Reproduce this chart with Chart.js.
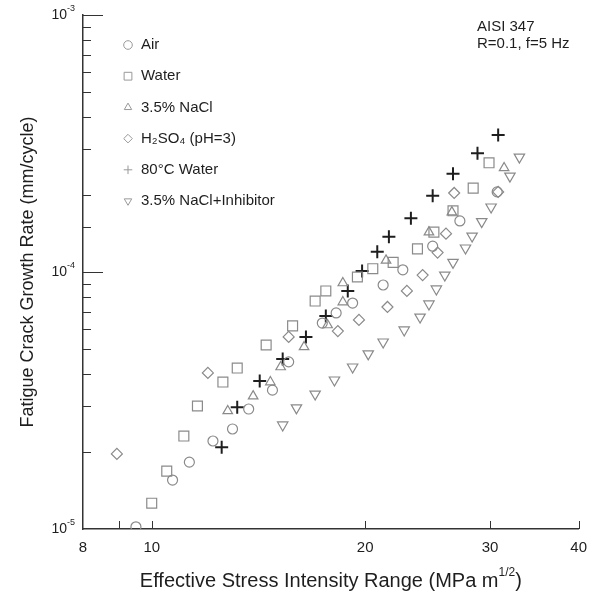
<!DOCTYPE html>
<html>
<head>
<meta charset="utf-8">
<script src="https://cdn.jsdelivr.net/npm/chart.js@4.4.1/dist/chart.umd.min.js"></script>
<style>
  html, body { margin: 0; padding: 0; background: #fff; }
  #wrap { width: 597px; height: 598px; }
</style>
</head>
<body>
<div id="wrap"><canvas id="fcgr" width="597" height="598"></canvas></div>
<script>
const seriesNames = ['Air', 'Water', '3.5% NaCl', 'H₂SO₄ (pH=3)', '80°C Water', '3.5% NaCl+Inhibitor'];

// delta K (MPa m^1/2) and da/dN (mm/cycle)
const airK = [9.5, 10.7, 11.3, 12.2, 13.0, 13.7, 14.8, 15.6, 17.4, 18.2, 19.2, 21.2, 22.6, 24.9, 27.2, 30.7];
const airRate = [1.02e-5, 1.55e-5, 1.82e-5, 2.2e-5, 2.45e-5, 2.93e-5, 3.47e-5, 4.47e-5, 6.33e-5, 6.93e-5, 7.57e-5, 8.9e-5, 1.02e-4, 1.26e-4, 1.58e-4, 2.05e-4];

const waterK = [10.0, 10.5, 11.1, 11.6, 12.6, 13.2, 14.5, 15.8, 17.0, 17.6, 19.5, 20.5, 21.9, 23.7, 25.0, 26.6, 28.4, 29.9];
const waterRate = [1.26e-5, 1.68e-5, 2.3e-5, 3.01e-5, 3.73e-5, 4.23e-5, 5.2e-5, 6.17e-5, 7.71e-5, 8.44e-5, 9.56e-5, 1.03e-4, 1.09e-4, 1.23e-4, 1.43e-4, 1.73e-4, 2.12e-4, 2.66e-4];

const naclK = [12.8, 13.9, 14.7, 15.2, 16.4, 17.7, 18.6, 18.6, 21.4, 24.6, 26.5, 31.4];
const naclRate = [2.88e-5, 3.29e-5, 3.73e-5, 4.27e-5, 5.11e-5, 6.22e-5, 7.64e-5, 9.06e-5, 1.11e-4, 1.43e-4, 1.71e-4, 2.54e-4];

const acidK = [8.93, 12.0, 15.6, 18.3, 19.6, 21.5, 22.9, 24.1, 25.3, 26.0, 26.7, 30.8];
const acidRate = [1.96e-5, 4.05e-5, 5.59e-5, 5.89e-5, 6.51e-5, 7.31e-5, 8.44e-5, 9.73e-5, 1.19e-4, 1.41e-4, 2.03e-4, 2.05e-4];

const hotK = [12.55, 13.2, 14.2, 15.3, 16.5, 17.6, 18.9, 19.8, 20.8, 21.6, 23.2, 24.9, 26.6, 28.8, 30.8];
const hotRate = [2.08e-5, 2.98e-5, 3.77e-5, 4.59e-5, 5.59e-5, 6.74e-5, 8.44e-5, 1.01e-4, 1.2e-4, 1.37e-4, 1.62e-4, 1.98e-4, 2.41e-4, 2.9e-4, 3.41e-4];

const inhibK = [15.3, 16.0, 17.0, 18.1, 19.2, 20.2, 21.2, 22.7, 23.9, 24.6, 25.2, 25.9, 26.6, 27.7, 28.3, 29.2, 30.1, 32.0, 33.0];
const inhibRate = [2.54e-5, 2.96e-5, 3.35e-5, 3.8e-5, 4.27e-5, 4.8e-5, 5.34e-5, 5.95e-5, 6.68e-5, 7.51e-5, 8.59e-5, 9.73e-5, 1.09e-4, 1.24e-4, 1.38e-4, 1.57e-4, 1.79e-4, 2.36e-4, 2.8e-4];

const xTickValues = [8, 9, 10, 20, 30, 40];
const xTickLabels = ['8', '', '10', '20', '30', '40'];
const noteLines = ['AISI 347', 'R=0.1, f=5 Hz'];

const FONT = '"Liberation Sans", Arial, "DejaVu Sans", sans-serif';
const GREY = '#8a8a8a';
const INK = '#1e1e1e';

const series = [
  [airK, airRate],
  [waterK, waterRate],
  [naclK, naclRate],
  [acidK, acidRate],
  [hotK, hotRate],
  [inhibK, inhibRate],
];

const markers = [
  { pointStyle: 'circle', radius: 5 },
  { pointStyle: 'rect', radius: 7 },
  { pointStyle: 'triangle', radius: 5.5 },
  { pointStyle: 'rectRot', radius: 5.5 },
  { pointStyle: 'cross', radius: 6.5, color: INK, width: 2 },
  { pointStyle: 'triangle', radius: 6, rotation: 180 },
];

const datasets = series.map(([xs, ys], i) => {
  const m = markers[i];
  return {
    label: seriesNames[i],
    data: xs.map((x, j) => ({ x, y: ys[j] })),
    showLine: false,
    pointStyle: m.pointStyle,
    pointRadius: m.radius,
    pointHoverRadius: m.radius,
    pointRotation: m.rotation || 0,
    borderColor: m.color || GREY,
    backgroundColor: 'rgba(0,0,0,0)',
    pointBorderWidth: m.width || 1.2,
  };
});

// text made of runs so that sub/superscripts can be drawn
function drawRuns(ctx, runs, x, y, align) {
  const widths = runs.map(r => {
    ctx.font = `${r.size}px ${FONT}`;
    return ctx.measureText(r.text).width;
  });
  const total = widths.reduce((a, b) => a + b, 0);
  let cx = x;
  if (align === 'center') cx = x - total / 2;
  if (align === 'right') cx = x - total;
  ctx.textAlign = 'left';
  ctx.textBaseline = 'middle';
  runs.forEach((r, i) => {
    ctx.font = `${r.size}px ${FONT}`;
    ctx.fillText(r.text, cx, y + (r.dy || 0));
    cx += widths[i];
  });
}

const isDecade = v => Math.abs(Math.log10(v) - Math.round(Math.log10(v))) < 1e-6;

const decorations = {
  id: 'decorations',
  afterDraw(chart) {
    const { ctx, scales: { x, y } } = chart;
    ctx.save();

    // inward tick marks
    ctx.strokeStyle = '#333';
    ctx.lineWidth = 1;
    ctx.beginPath();
    xTickValues.forEach(v => {
      if (v <= x.min) return;
      const px = Math.round(x.getPixelForValue(v)) + 0.5;
      ctx.moveTo(px, y.bottom);
      ctx.lineTo(px, y.bottom - 8);
    });
    y.ticks.forEach(t => {
      if (t.value <= y.min) return;
      const py = Math.round(y.getPixelForValue(t.value)) + 0.5;
      ctx.moveTo(x.left, py);
      ctx.lineTo(x.left + (isDecade(t.value) ? 20 : 8), py);
    });
    ctx.stroke();

    // y decade labels, 10 with a raised exponent
    ctx.fillStyle = INK;
    y.ticks.filter(t => isDecade(t.value)).forEach(t => {
      const exp = Math.round(Math.log10(t.value));
      drawRuns(ctx, [
        { text: '10', size: 14 },
        { text: String(exp), size: 9, dy: -6 },
      ], x.left - 8, y.getPixelForValue(t.value), 'right');
    });

    // x axis title
    drawRuns(ctx, [
      { text: 'Effective Stress Intensity Range (MPa m', size: 20 },
      { text: '1/2', size: 12, dy: -8 },
      { text: ')', size: 20 },
    ], (x.left + x.right) / 2, 581, 'center');

    // legend
    chart.data.datasets.forEach((ds, i) => {
      const ly = 45 + i * 31.2;
      ctx.strokeStyle = '#999';
      ctx.fillStyle = 'rgba(0,0,0,0)';
      Chart.helpers.drawPoint(ctx, {
        pointStyle: ds.pointStyle,
        rotation: ds.pointRotation,
        radius: ds.pointStyle === 'rect' ? 5.5 : 4.3,
        borderWidth: 1,
      }, 128, ly);
      ctx.fillStyle = INK;
      ctx.font = `15px ${FONT}`;
      ctx.textAlign = 'left';
      ctx.textBaseline = 'middle';
      ctx.fillText(ds.label, 141, ly);
    });

    // material / loading note
    ctx.font = `15px ${FONT}`;
    noteLines.forEach((line, i) => ctx.fillText(line, 477, 27 + i * 17));

    ctx.restore();
  },
};

const ctx = document.getElementById('fcgr').getContext('2d');
new Chart(ctx, {
  type: 'scatter',
  data: { datasets },
  options: {
    responsive: false,
    animation: false,
    events: [],
    layout: { padding: { top: 15, right: 18, left: 0, bottom: 0 } },
    plugins: { legend: { display: false }, tooltip: { enabled: false } },
    scales: {
      x: {
        type: 'logarithmic',
        min: 8,
        max: 40,
        afterBuildTicks: s => { s.ticks = xTickValues.map(v => ({ value: v })); },
        afterFit: s => { s.height = 69; },
        grid: { display: false, drawTicks: false },
        border: { display: true, color: '#333', width: 1.5 },
        ticks: {
          autoSkip: false,
          maxRotation: 0,
          padding: 10,
          color: INK,
          font: { family: FONT, size: 15 },
          callback: (v, i) => xTickLabels[i],
        },
      },
      y: {
        type: 'logarithmic',
        min: 1e-5,
        max: 1e-3,
        afterFit: s => { s.width = 83; },
        grid: { display: false, drawTicks: false },
        border: { display: true, color: '#333', width: 1.5 },
        ticks: { display: false },
        title: {
          display: true,
          text: 'Fatigue Crack Growth Rate (mm/cycle)',
          color: INK,
          font: { family: FONT, size: 18 },
          padding: { top: 17, bottom: 0 },
        },
      },
    },
  },
  plugins: [decorations],
});
</script>
</body>
</html>
